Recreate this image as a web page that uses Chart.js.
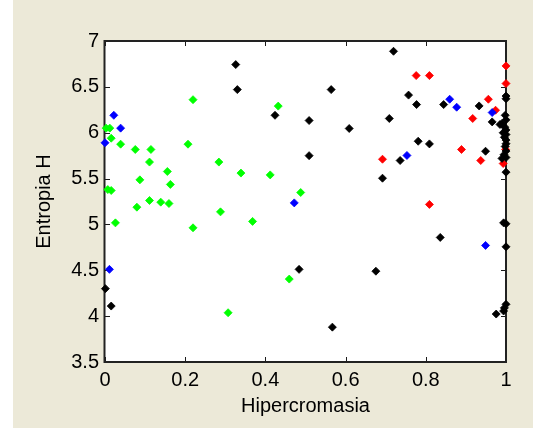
<!DOCTYPE html>
<html>
<head>
<meta charset="utf-8">
<script src="https://cdn.jsdelivr.net/npm/chart.js@4/dist/chart.umd.min.js"></script>
<style>
  html, body { margin: 0; padding: 0; background: #ffffff; }
  canvas { display: block; }
</style>
</head>
<body>
<canvas id="c" width="533" height="432"></canvas>
<script>
// Axis ticks
const xTicks = [0, 0.2, 0.4, 0.6, 0.8, 1];
const yTicks = [3.5, 4, 4.5, 5, 5.5, 6, 6.5, 7];

// Group 1 (green)
const greenX = [0.003, 0.012, 0.0155, 0.039, 0.0755, 0.1145, 0.207, 0.2195, 0.111, 0.284,
                0.1555, 0.087, 0.163, 0.007, 0.0155, 0.339, 0.412, 0.432, 0.488, 0.0795,
                0.111, 0.139, 0.1595, 0.026, 0.2195, 0.288, 0.368, 0.307, 0.4595];
const greenY = [6.05, 6.05, 5.94, 5.875, 5.817, 5.817, 5.875, 6.36, 5.68, 5.68,
                5.577, 5.486, 5.436, 5.38, 5.37, 5.56, 5.54, 6.29, 5.348, 5.188,
                5.261, 5.243, 5.228, 5.017, 4.963, 5.137, 5.033, 4.037, 4.404];

// Group 2 (blue)
const blueX = [0.022, 0.039, 0.0, 0.011, 0.472, 0.753, 0.8595, 0.877, 0.9655, 0.949];
const blueY = [6.19, 6.05, 5.89, 4.51, 5.235, 5.752, 6.365, 6.278, 6.22, 4.771];

// Group 3 (black)
const blackX = [0.326, 0.330, 0.001, 0.0155, 0.564, 0.424, 0.509, 0.609, 0.509, 0.484,
                0.567, 0.6755, 0.7195, 0.757, 0.777, 0.709, 0.8445, 0.933, 0.9655, 0.781,
                0.809, 0.949, 0.736, 0.692, 0.836,
                1.0, 1.0, 0.998, 1.0, 0.99, 0.985, 0.997, 1.0, 0.993, 1.0,
                0.996, 1.0, 1.0, 0.998, 1.0, 0.995, 1.0, 0.99, 1.0, 0.994,
                1.0, 1.0, 1.0, 0.996, 0.994, 0.9755];
const blackY = [6.743, 6.47, 4.30, 4.11, 6.47, 6.19, 6.133, 6.046, 5.75, 4.51,
                3.88, 4.49, 6.888, 6.41, 6.307, 6.155, 6.307, 6.292, 6.118, 5.907,
                5.878, 5.798, 5.697, 5.504, 4.858,
                6.40, 6.37, 6.19, 6.14, 6.10, 6.09, 6.06, 6.03, 6.0, 5.98,
                5.95, 5.92, 5.88, 5.85, 5.80, 5.76, 5.73, 5.72, 5.57, 5.017,
                5.007, 4.756, 4.129, 4.09, 4.056, 4.023];

// Group 4 (red)
const redX = [0.776, 0.809, 1.0, 1.0, 0.956, 0.974, 0.917, 0.889, 0.937, 0.692, 0.809, 0.993, 0.999];
const redY = [6.623, 6.623, 6.728, 6.536, 6.365, 6.245, 6.155, 5.817, 5.697, 5.711, 5.218, 5.664, 5.817];

const FONT = '"Liberation Sans", Arial, sans-serif';
const toPoints = (xs, ys) => xs.map((x, i) => ({ x: x, y: ys[i] }));

function series(xs, ys, color) {
  return {
    data: toPoints(xs, ys),
    backgroundColor: color,
    borderColor: color,
    pointStyle: 'rectRot',
    pointRadius: 4,
    borderWidth: 0.8,
    showLine: false,
    clip: false
  };
}

// Figure background, white plot box
const backdrop = {
  id: 'backdrop',
  beforeDraw(chart) {
    const { ctx, chartArea: a } = chart;
    ctx.save();
    ctx.fillStyle = '#ffffff';
    ctx.fillRect(0, 0, chart.width, chart.height);
    ctx.fillStyle = '#ece9d8';
    ctx.fillRect(13, 0, chart.width - 13, 428);
    ctx.fillStyle = '#ffffff';
    ctx.fillRect(a.left, a.top, a.right - a.left, a.bottom - a.top);
    ctx.restore();
  }
};

// Closed axes box with inward tick marks on all four sides
const axesBox = {
  id: 'axesBox',
  beforeDatasetsDraw(chart) {
    const { ctx, chartArea: a, scales } = chart;
    const len = 5;
    ctx.save();
    ctx.strokeStyle = '#1a1a1a';
    ctx.lineWidth = 1;
    scales.x.ticks.forEach(t => {
      const px = Math.round(scales.x.getPixelForValue(t.value)) + 0.5;
      ctx.beginPath();
      ctx.moveTo(px, a.bottom); ctx.lineTo(px, a.bottom - len);
      ctx.moveTo(px, a.top); ctx.lineTo(px, a.top + len);
      ctx.stroke();
    });
    scales.y.ticks.forEach(t => {
      const py = Math.round(scales.y.getPixelForValue(t.value)) + 0.5;
      ctx.beginPath();
      ctx.moveTo(a.left, py); ctx.lineTo(a.left + len, py);
      ctx.moveTo(a.right, py); ctx.lineTo(a.right - len, py);
      ctx.stroke();
    });
    ctx.lineWidth = 2;
    ctx.strokeStyle = '#222222';
    ctx.strokeRect(a.left - 0.5, a.top, a.right - a.left + 0.5, a.bottom - a.top);
    ctx.restore();
  }
};

new Chart(document.getElementById('c'), {
  type: 'scatter',
  data: {
    datasets: [
      series(greenX, greenY, '#00ff00'),
      series(blueX, blueY, '#0000ff'),
      series(blackX, blackY, '#000000'),
      series(redX, redY, '#ff0000')
    ]
  },
  options: {
    responsive: false,
    animation: false,
    events: [],
    layout: { padding: { top: 41, right: 27, left: 0, bottom: 0 } },
    plugins: { legend: { display: false }, tooltip: { enabled: false } },
    scales: {
      x: {
        type: 'linear',
        position: 'bottom',
        min: 0, max: 1,
        grid: { display: false, drawTicks: false },
        border: { display: false },
        afterBuildTicks: s => { s.ticks = xTicks.map(v => ({ value: v })); },
        afterFit: s => { s.height = 70; },
        ticks: {
          autoSkip: false, maxRotation: 0, padding: 6,
          color: '#000000',
          font: { family: FONT, size: 20 },
          callback: v => String(v)
        },
        title: {
          display: true, text: 'Hipercromasia', color: '#000000',
          font: { family: FONT, size: 20 },
          padding: { top: 0, bottom: 14 }
        }
      },
      y: {
        type: 'linear',
        position: 'left',
        min: 3.5, max: 7,
        grid: { display: false, drawTicks: false },
        border: { display: false },
        afterBuildTicks: s => { s.ticks = yTicks.map(v => ({ value: v })); },
        afterFit: s => { s.width = 105; },
        ticks: {
          autoSkip: false, padding: 6,
          color: '#000000',
          font: { family: FONT, size: 20 },
          callback: v => String(v)
        },
        title: {
          display: true, text: 'Entropia H', color: '#000000',
          font: { family: FONT, size: 20 },
          padding: { top: 32, bottom: 0 }
        }
      }
    }
  },
  plugins: [backdrop, axesBox]
});
</script>
</body>
</html>
